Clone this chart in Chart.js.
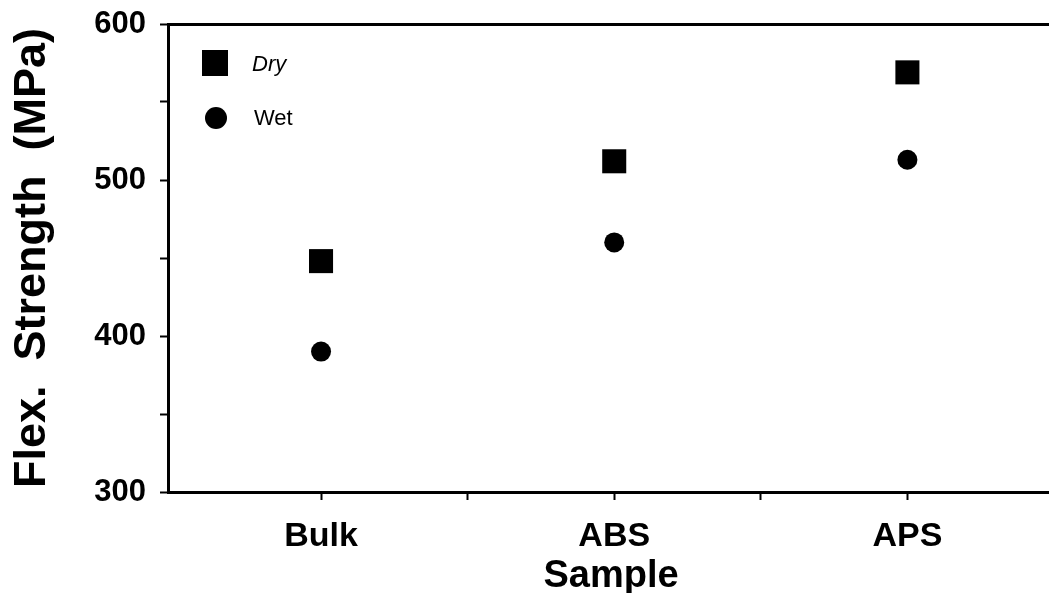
<!DOCTYPE html>
<html>
<head>
<meta charset="utf-8">
<script src="https://cdn.jsdelivr.net/npm/chart.js@4.4.1/dist/chart.umd.min.js"></script>
<style>
  html, body { margin: 0; padding: 0; background: #fff; overflow: hidden; }
</style>
</head>
<body>
<canvas id="flexChart" width="1060" height="593"></canvas>
<script>
// Datos
const samples = ['Bulk', 'ABS', 'APS'];
const dryValues = [448, 512, 569];
const wetValues = [390, 460, 513];
const yTickLabels = [300, 400, 500, 600];
const xTicks = [1, 1.5, 2, 2.5, 3];

const toPoints = vals => vals.map((v, i) => ({ x: i + 1, y: v }));
const FONT = '"Liberation Sans", Arial, sans-serif';

// Leyenda dibujada dentro del área de la gráfica
const insideLegend = {
    id: 'insideLegend',
    afterDraw(chart) {
        const ctx = chart.ctx;
        ctx.save();
        ctx.fillStyle = '#000';
        ctx.fillRect(202, 50, 26, 26);
        ctx.beginPath();
        ctx.arc(216, 118, 11, 0, Math.PI * 2);
        ctx.fill();
        ctx.textBaseline = 'middle';
        ctx.font = 'italic 22px ' + FONT;
        ctx.fillText('Dry', 252, 65);
        ctx.font = '22px ' + FONT;
        ctx.fillText('Wet', 254, 119);
        ctx.restore();
    }
};

const noPad = s => { s.paddingLeft = 0; s.paddingRight = 0; s.paddingTop = 0; s.paddingBottom = 0; };

const config = {
    type: 'scatter',
    data: {
        datasets: [{
            label: 'Dry',
            data: toPoints(dryValues),
            pointStyle: 'rect',
            pointRadius: 17,
            backgroundColor: '#000',
            borderColor: '#000',
            borderWidth: 0
        }, {
            label: 'Wet',
            data: toPoints(wetValues),
            pointStyle: 'circle',
            pointRadius: 10,
            backgroundColor: '#000',
            borderColor: '#000',
            borderWidth: 0
        }]
    },
    options: {
        responsive: false,
        animation: false,
        layout: { autoPadding: false, padding: { top: 24, right: 6, left: 0, bottom: 0 } },
        plugins: {
            legend: { display: false },
            tooltip: { enabled: false }
        },
        scales: {
            x: {
                type: 'linear',
                min: 0.478,
                max: 3.5,
                afterFit: s => { s.height = 101; noPad(s); },
                afterBuildTicks: s => { s.ticks = xTicks.map(v => ({ value: v })); },
                border: { display: true, color: '#000', width: 3 },
                grid: { drawOnChartArea: false, drawTicks: true, tickLength: 8, color: '#000', tickWidth: 2 },
                ticks: {
                    padding: 16,
                    color: '#000',
                    maxRotation: 0,
                    autoSkip: false,
                    font: { family: FONT, size: 34, weight: 'bold' },
                    callback: v => Number.isInteger(v) ? samples[v - 1] : ''
                },
                title: {
                    display: true,
                    text: 'Sample',
                    color: '#000',
                    padding: { top: 0, bottom: -3 },
                    font: { family: FONT, size: 38, weight: 'bold', lineHeight: 1 }
                }
            },
            x2: {
                type: 'linear',
                position: 'top',
                min: 0.478,
                max: 3.5,
                afterFit: s => { s.height = 0; noPad(s); },
                border: { display: true, color: '#000', width: 3 },
                grid: { display: false },
                ticks: { display: false }
            },
            y: {
                min: 300,
                max: 600,
                afterFit: s => { s.width = 168; noPad(s); },
                border: { display: true, color: '#000', width: 3 },
                grid: { drawOnChartArea: false, drawTicks: true, tickLength: 8, color: '#000', tickWidth: 2 },
                ticks: {
                    stepSize: 50,
                    padding: 14,
                    color: '#000',
                    font: { family: FONT, size: 31, weight: 'bold' },
                    callback: v => yTickLabels.includes(v) ? String(v) : ''
                },
                title: {
                    display: true,
                    text: 'Flex.  Strength  (MPa)',
                    color: '#000',
                    padding: { top: 6, bottom: 0 },
                    font: { family: FONT, size: 45, weight: 'bold', lineHeight: 1.2 }
                }
            }
        }
    },
    plugins: [insideLegend]
};

const ctx = document.getElementById('flexChart').getContext('2d');
new Chart(ctx, config);
</script>
</body>
</html>
